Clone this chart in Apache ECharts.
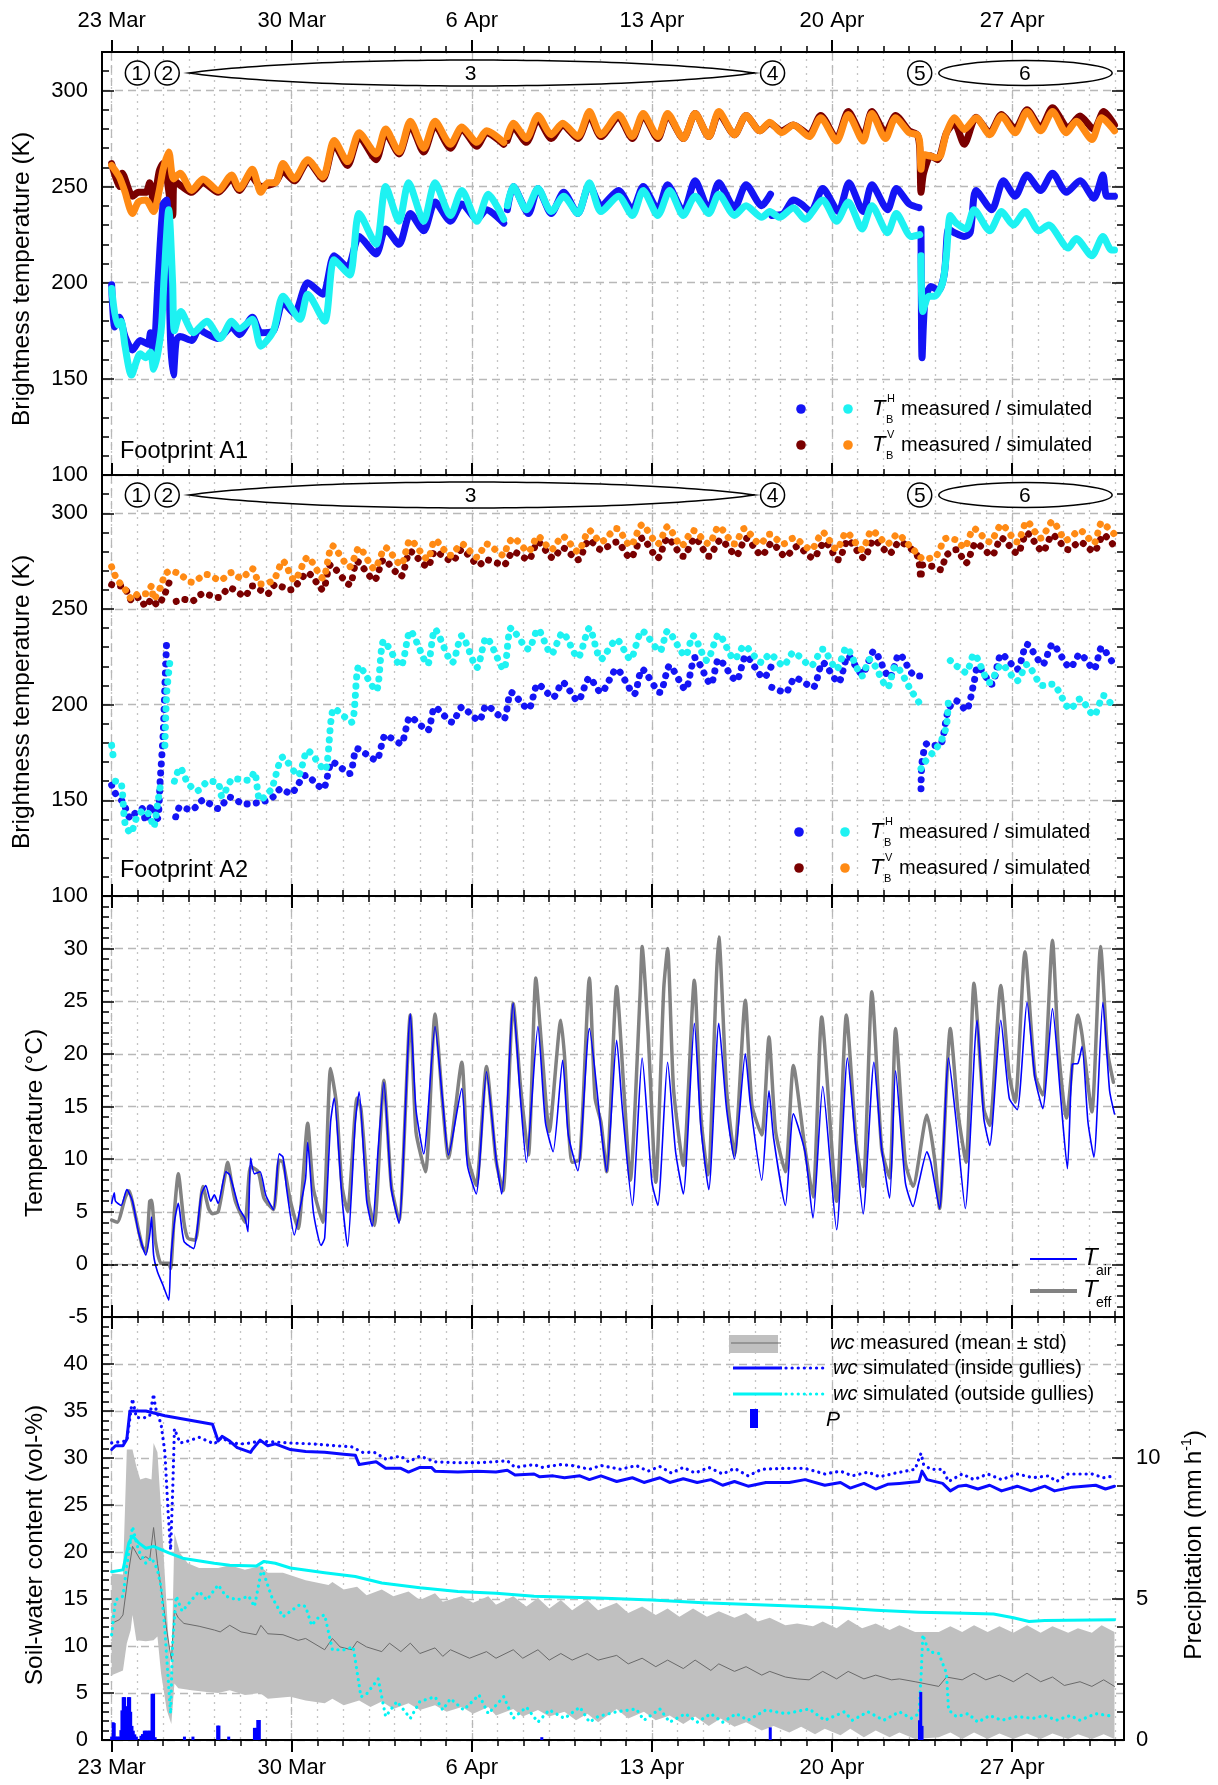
<!DOCTYPE html>
<html><head><meta charset="utf-8">
<script src="https://cdn.jsdelivr.net/npm/echarts@6/dist/echarts.min.js"></script>
<style>html,body{margin:0;padding:0;background:#fff}#c{width:1218px;height:1785px}</style>
</head><body><div id="c"></div>
<script>
// ---------------- axis ticks / labels ----------------
const XMIN = -0.375, XMAX = 39.35;   // days after 23 Mar 00:00
const tickDays = [0,1,2,3,4,5,6,7,8,9,10,11,12,13,14,15,16,17,18,19,20,21,22,23,24,25,26,27,28,29,30,31,32,33,34,35,36,37,38,39];
const weekDays = [0,7,14,21,28,35];
const weekLabels = ['23 Mar','30 Mar','6 Apr','13 Apr','20 Apr','27 Apr'];
const tbMajor = [100,150,200,250,300];
const tbMinor = [100,110,120,130,140,150,160,170,180,190,200,210,220,230,240,250,260,270,280,290,300,310,320];
const tMajor = [-5,0,5,10,15,20,25,30];
const tMinor = [-5,-4,-3,-2,-1,0,1,2,3,4,5,6,7,8,9,10,11,12,13,14,15,16,17,18,19,20,21,22,23,24,25,26,27,28,29,30,31,32,33,34,35];
const wcMajor = [0,5,10,15,20,25,30,35,40];
const wcMinor = [0,1,2,3,4,5,6,7,8,9,10,11,12,13,14,15,16,17,18,19,20,21,22,23,24,25,26,27,28,29,30,31,32,33,34,35,36,37,38,39,40,41,42,43,44,45];
const pMajorTicks = [0,5,10,15];
const pLabels = [0,5,10];
const pMinor = [0,1,2,3,4,5,6,7,8,9,10,11,12,13,14,15];

// ---------------- Footprint A1 brightness temperatures (K) ----------------
const A1_TBH_meas = [[0,199],[0.12,177],[0.3,182],[0.52,172],[0.81,165],[1.11,170],[1.41,168],[1.51,174],[1.63,163],[1.8,200],[2.0,241],[2.14,243],[2.29,170],[2.4,152],[2.51,170],[2.66,172],[3.11,170],[3.4,176],[3.62,174],[4.14,171],[4.66,177],[4.96,173],[5.47,182],[5.8,174],[6.29,175],[6.66,190],[7.1,184],[7.62,200],[8.21,194],[8.65,214],[9.17,208],[9.62,224],[10.28,215],[10.65,228],[11.17,220],[11.61,236],[12.13,227],[12.57,242],[13.17,232],[13.61,241],[14.2,233],[14.57,238],[15.24,231],[15.31,null],[15.38,238],[15.61,250],[16.2,236],[16.57,249],[17.09,236],[17.57,247],[18.12,236],[18.57,251],[19.02,240],[19.7,248],[20.24,238],[20.66,250],[21.23,238],[21.61,251],[22.22,237],[22.68,253],[23.21,238],[23.6,252],[24.21,239],[24.66,251],[25.27,240],[25.61,246],[25.63,null],[25.66,235],[26.11,236],[26.5,243],[26.8,241],[27.18,237],[27.64,249],[28.25,237],[28.66,252],[29.21,237],[29.55,251],[30.16,238],[30.5,249],[31.0,241],[31.38,239],[31.42,null],[31.46,228],[31.47,200],[31.5,161],[31.61,190],[31.84,198],[32.15,196],[32.37,205],[32.53,228],[32.76,226],[33.14,224],[33.37,226],[33.6,248],[34.21,238],[34.66,253],[35.12,245],[35.58,256],[36.11,248],[36.57,257],[37.11,247],[37.64,253],[38.18,244],[38.53,256],[38.68,245],[38.98,245]];
const A1_TBH_sim = [[0,197],[0.22,178],[0.37,180],[0.52,167],[0.77,152],[1.11,163],[1.33,161],[1.51,164],[1.63,155],[1.92,175],[2.04,203],[2.22,238],[2.37,200],[2.44,175],[2.69,185],[3.18,174],[3.7,180],[4.22,171],[4.66,180],[4.96,176],[5.47,181],[5.8,167],[6.29,175],[6.66,193],[7.32,181],[7.62,194],[8.28,180],[8.65,212],[9.25,204],[9.62,236],[10.28,220],[10.65,250],[11.17,232],[11.54,252],[12.13,232],[12.57,252],[13.17,235],[13.61,248],[14.2,232],[14.64,246],[15.24,233],[15.31,null],[15.38,240],[15.61,250],[16.12,238],[16.57,249],[17.09,237],[17.57,245],[18.12,236],[18.57,252],[19.02,237],[19.7,245],[20.24,235],[20.66,248],[21.23,235],[21.69,248],[22.22,235],[22.68,245],[23.21,236],[23.6,246],[24.21,235],[24.66,240],[25.27,234],[25.58,237],[25.96,234],[26.5,239],[26.95,233],[27.64,243],[28.18,232],[28.63,242],[29.17,228],[29.55,240],[30.16,226],[30.5,236],[31.08,224],[31.41,225],[31.43,null],[31.46,214],[31.53,185],[31.76,193],[31.99,193],[32.3,200],[32.45,215],[32.6,235],[32.83,231],[33.21,228],[33.52,238],[34.13,227],[34.59,237],[35.05,230],[35.5,237],[36.04,227],[36.42,230],[37.18,218],[37.49,223],[38.1,214],[38.53,224],[38.86,217],[38.98,217]];
const A1_TBV_meas = [[0,262],[0.3,250],[0.41,257],[0.81,245],[1.04,247],[1.33,247],[1.48,252],[1.63,242],[1.85,258],[2.0,262],[2.14,255],[2.37,235],[2.44,253],[2.74,250],[3.11,247],[3.55,252],[4.14,247],[4.66,254],[4.96,248],[5.4,256],[5.8,250],[6.36,252],[6.66,258],[7.1,253],[7.62,263],[8.21,254],[8.65,272],[9.17,261],[9.62,276],[10.28,264],[10.65,278],[11.17,267],[11.61,282],[12.13,268],[12.57,282],[13.17,270],[13.61,280],[14.2,271],[14.57,278],[15.24,272],[15.31,null],[15.38,274],[15.61,281],[16.12,273],[16.57,285],[17.09,275],[17.53,282],[18.12,275],[18.57,287],[19.02,276],[19.7,286],[20.24,275],[20.66,287],[21.23,275],[21.61,287],[22.22,275],[22.68,288],[23.21,276],[23.6,288],[24.21,277],[24.66,287],[25.2,279],[25.58,283],[26.04,279],[26.5,282],[27.11,277],[27.56,287],[28.18,275],[28.63,289],[29.21,276],[29.55,289],[30.08,278],[30.47,287],[31.0,279],[31.31,277],[31.41,270],[31.46,247],[31.56,257],[31.84,266],[32.1,264],[32.45,278],[32.76,283],[33.14,272],[33.6,286],[34.13,278],[34.59,287.5],[35.12,280],[35.58,290],[36.11,280.6],[36.57,291],[37.18,280.6],[37.64,286.7],[38.18,279.7],[38.56,289],[38.98,282]];
const A1_TBV_sim = [[0,261],[0.3,255],[0.5,248],[0.81,236],[1.04,242],[1.33,243],[1.63,237],[1.85,248],[2.0,259],[2.22,268],[2.4,254],[2.66,257],[3.11,248],[3.55,254],[4.14,248],[4.66,256],[4.96,249],[5.47,259],[5.8,247],[6.07,252],[6.36,252],[6.66,262],[7.1,254],[7.62,264],[8.21,255],[8.65,274],[9.17,263],[9.62,278],[10.28,267],[10.65,280],[11.17,268],[11.61,284],[12.13,270],[12.57,284],[13.17,272],[13.61,281],[14.2,273],[14.57,279],[15.24,273],[15.31,null],[15.38,276],[15.61,283],[16.12,275],[16.57,287],[17.09,277],[17.53,283],[18.12,276],[18.57,289],[19.02,277],[19.7,287.5],[20.24,276],[20.66,288],[21.23,276],[21.61,288],[22.22,275],[22.68,288],[23.21,276],[23.6,289],[24.21,277],[24.66,287],[25.2,279],[25.58,283.5],[26.04,278],[26.5,282],[27.11,276],[27.56,285.8],[28.18,273.7],[28.63,287.5],[29.21,273.7],[29.55,288],[30.08,275],[30.47,285.8],[31.0,278],[31.31,277],[31.41,273],[31.46,259],[31.56,266.7],[31.84,265.8],[32.07,265],[32.22,266],[32.45,278],[32.76,285.8],[33.14,279.7],[33.6,285.8],[34.13,277],[34.59,286.7],[35.12,278],[35.58,289],[36.11,279],[36.57,289],[37.11,278],[37.49,284],[38.1,274.5],[38.48,285.8],[38.98,279]];

// ---------------- Footprint A2 brightness temperatures (K) ----------------
const A2_TBH_meas = [[0,157.9],[0.15,153.5],[0.44,149],[0.74,140.5],[0.96,144],[1.18,145.7],[1.33,139],[1.55,147.5],[1.78,140.5],[1.89,161.3],[2.0,184],[2.07,210],[2.14,234],[2.3,null],[2.49,141.4],[2.66,146.6],[3.11,145],[3.55,150],[4.14,145.7],[4.59,151.6],[5.18,148],[5.77,149],[6.21,151],[6.58,156],[6.95,153.5],[7.54,163],[8.21,156],[8.58,170],[9.25,164],[9.54,177],[10.28,171],[10.65,184],[11.24,179.6],[11.61,193.5],[12.28,186.5],[12.57,198.6],[13.24,190.8],[13.61,198.6],[14.28,191.7],[14.57,199.5],[15.24,192.5],[15.53,206.4],[16.2,197.7],[16.57,210.7],[17.16,203.8],[17.53,211.6],[18.12,202],[18.57,214],[19.02,206.4],[19.63,218.5],[20.31,205.5],[20.62,218.5],[21.31,206.4],[21.69,220.3],[22.3,208],[22.68,224.6],[23.29,210.7],[23.6,223.7],[24.28,212.5],[24.66,225.5],[25.35,214],[25.64,220],[25.65,null],[25.66,209],[26.19,206.4],[26.57,214],[27.26,209],[27.64,222],[28.25,211.6],[28.63,225.5],[29.17,216],[29.63,228],[30.24,214],[30.62,226.4],[31.23,215],[31.41,215],[31.43,null],[31.46,156],[31.5,170],[31.69,179.6],[31.99,178.7],[32.22,179],[32.53,197.7],[32.83,202],[33.21,197],[33.52,211.6],[33.67,220],[34.21,210.7],[34.59,226.4],[35.2,218.5],[35.58,231.5],[36.19,221],[36.57,231.5],[37.26,219.4],[37.64,226.4],[38.18,218.5],[38.48,229.8],[38.98,220.3]];
const A2_TBH_sim = [[0,178.7],[0.07,172],[0.11,null],[0.15,160],[0.37,159],[0.52,138],[0.74,132.8],[0.96,140.5],[1.26,145],[1.48,142],[1.63,136],[1.78,147.5],[1.92,160],[2.0,null],[2.07,178.7],[2.14,206],[2.29,225.5],[2.37,null],[2.44,160],[2.66,167],[2.96,159],[3.33,155],[3.77,160],[4.14,159],[4.29,152],[4.73,161.3],[5.33,160.5],[5.55,164.8],[5.77,150],[6.21,156],[6.66,172.6],[7.25,163],[7.62,176],[8.28,165.7],[8.65,198],[9.32,190.8],[9.62,220.3],[10.28,207.3],[10.58,233.3],[11.24,220.3],[11.61,238.5],[12.28,221],[12.57,239.3],[13.24,222],[13.61,236],[14.2,219.4],[14.57,235],[15.24,218.5],[15.53,240],[16.2,229],[16.57,239.3],[17.09,226.4],[17.53,237.6],[18.12,224.6],[18.57,240],[19.02,223.7],[19.63,234],[20.16,223.7],[20.62,238.5],[21.31,228],[21.61,238.5],[22.3,225.5],[22.6,236],[23.14,223],[23.6,236.7],[24.21,223.7],[24.59,230.7],[25.27,222],[25.58,226.4],[26.11,220.3],[26.5,227.2],[27.18,220.3],[27.64,229],[28.18,218.5],[28.56,229.8],[29.17,215],[29.47,223.7],[30.16,209],[30.47,220.3],[31.08,207.3],[31.38,201.2],[31.42,null],[31.46,166.6],[31.61,170],[31.92,175],[32.22,180.4],[32.45,189],[32.53,204.7],[32.56,null],[32.6,223],[32.83,220.3],[33.21,216.8],[33.52,226.4],[34.13,211.6],[34.59,221],[35.2,212.5],[35.58,221],[36.19,210],[36.57,210.7],[37.26,197.7],[37.64,203],[38.18,194.3],[38.56,204.7],[38.98,197.7]];
const A2_TBV_meas = [[0,262.7],[0.15,262],[0.44,262],[0.81,254],[1.04,256],[1.33,251.4],[1.55,255],[1.78,252],[2.07,258],[2.29,266],[2.4,null],[2.51,254],[2.81,255],[3.11,254],[3.55,258],[4.14,256],[4.59,261],[5.18,256.7],[5.47,262],[6.07,258],[6.36,262.7],[6.95,260],[7.62,268.8],[8.21,260],[8.51,273],[9.25,262.7],[9.54,274.8],[10.21,265],[10.58,275.7],[11.24,267],[11.61,280],[12.28,272],[12.57,280],[13.24,275],[13.61,281],[14.28,273],[14.57,275.7],[15.24,273],[15.61,280],[16.2,275.7],[16.57,285],[17.16,276.6],[17.53,282],[18.12,275.7],[18.57,286],[19.02,281],[19.63,285],[20.16,276.6],[20.62,287],[21.23,276.6],[21.61,287],[22.22,277.5],[22.68,287],[23.21,277.5],[23.67,286],[24.28,278],[24.66,287],[25.27,278],[25.66,284.4],[26.19,277.5],[26.65,282.7],[27.26,276.6],[27.72,285],[28.25,275.7],[28.63,286],[29.24,276.6],[29.63,286],[30.24,279],[30.62,285],[31.31,278],[31.46,266],[31.53,273],[31.99,272],[32.22,270.5],[32.45,278],[32.83,281],[33.21,274],[33.6,284.4],[34.21,278],[34.59,287],[35.2,279],[35.58,289.6],[36.19,280],[36.57,288.7],[37.18,281],[37.64,285],[38.18,280],[38.56,288.7],[38.98,282.7]];
const A2_TBV_sim = [[0,272],[0.22,265],[0.44,262],[0.81,255],[1.04,258],[1.33,258],[1.55,262],[1.63,255],[1.92,262],[2.07,268],[2.29,270],[2.66,268],[3.11,264],[3.7,268],[4.22,265],[4.66,269],[5.03,266],[5.47,271],[5.77,263],[6.29,265],[6.66,275],[7.1,265],[7.62,277],[8.21,266],[8.58,283],[9.25,272],[9.62,282],[10.21,271],[10.65,282],[11.24,273],[11.61,286],[12.28,276],[12.57,286],[13.17,278],[13.61,284],[14.2,277],[14.57,284],[15.24,278],[15.38,283],[15.61,287],[16.2,280],[16.57,288],[17.09,281],[17.53,288],[18.12,280],[18.57,291],[19.02,285],[19.63,292],[20.16,283],[20.62,294],[21.23,284],[21.61,293],[22.15,283],[22.6,291],[23.21,284],[23.6,293],[24.21,284],[24.59,292],[25.2,284],[25.58,289],[26.11,284],[26.5,287],[27.18,281],[27.64,290],[28.18,281],[28.56,290],[29.17,281],[29.55,291],[30.16,284],[30.54,289],[31.08,282],[31.38,278],[31.53,276],[31.84,276.6],[32.07,278],[32.45,287],[32.83,286],[33.14,282],[33.52,292],[34.13,285],[34.59,294],[35.2,285],[35.58,295.7],[36.11,287],[36.57,295.7],[37.11,286],[37.64,291],[38.18,284.4],[38.48,295],[38.98,289]];

// ---------------- temperatures (deg C) ----------------
const T_air = [[0,5.8],[0.1,6.8],[0.15,6.0],[0.37,5.6],[0.59,7.1],[0.81,6.0],[1.04,3.1],[1.33,0.9],[1.48,2.8],[1.55,4.5],[1.63,0.9],[1.78,-0.7],[2.0,-2.0],[2.22,-3.4],[2.29,0.1],[2.44,4.0],[2.59,5.8],[2.81,2.2],[3.18,1.5],[3.48,6.6],[3.66,7.5],[3.85,6.0],[3.99,6.6],[4.14,5.8],[4.44,8.8],[4.59,8.5],[4.96,5.3],[5.18,4.4],[5.3,3.1],[5.4,10.1],[5.55,8.6],[5.77,8.8],[5.99,6.6],[6.29,5.2],[6.51,10.5],[6.66,10.2],[6.8,7.2],[7.1,2.8],[7.32,5.3],[7.54,8.2],[7.62,11.6],[7.84,5.0],[8.14,1.8],[8.28,2.5],[8.51,13.5],[8.65,15.8],[8.95,6.4],[9.17,1.7],[9.47,13.5],[9.62,16.4],[9.91,6.1],[10.13,3.6],[10.36,11.0],[10.58,17.3],[10.87,7.2],[11.17,3.9],[11.61,23.8],[11.83,14.7],[12.13,10.5],[12.57,22.6],[12.87,15.4],[13.09,10.4],[13.61,16.7],[13.83,9.4],[14.17,6.7],[14.57,18.3],[14.94,10.1],[15.16,6.7],[15.61,24.8],[15.9,15.4],[16.12,9.7],[16.57,22.6],[16.86,13.5],[17.16,10.7],[17.53,19.4],[17.75,12.3],[18.12,8.9],[18.57,22.4],[19.02,12.9],[19.24,8.8],[19.63,21.3],[19.85,14.8],[20.24,5.6],[20.62,19.6],[21.0,7.8],[21.23,5.6],[21.61,19.2],[21.92,10.7],[22.22,6.7],[22.65,22.9],[22.91,12.9],[23.21,7.1],[23.6,22.9],[23.9,14.8],[24.21,10.0],[24.63,20.0],[24.82,15.4],[25.27,8.0],[25.55,16.5],[25.73,12.0],[26.19,5.6],[26.5,14.3],[26.95,10.7],[27.26,4.4],[27.64,16.9],[28.18,3.3],[28.6,19.6],[28.94,10.9],[29.21,4.8],[29.63,19.2],[29.93,11.0],[30.24,6.3],[30.47,18.4],[30.85,7.8],[31.15,5.5],[31.38,7.8],[31.69,10.7],[31.84,9.7],[32.18,5.3],[32.53,19.6],[32.83,13.5],[33.18,5.3],[33.64,23.2],[33.9,13.9],[34.13,11.3],[34.56,23.2],[34.89,15.8],[35.2,14.7],[35.58,24.9],[35.89,17.7],[36.19,14.8],[36.57,24.3],[36.88,16.1],[37.15,9.1],[37.34,19.0],[37.56,19.1],[37.72,20.7],[37.95,13.5],[38.18,10.2],[38.53,24.9],[38.79,16.5],[38.98,14.3]];
const T_eff = [[0,4.2],[0.22,4.0],[0.52,6.3],[0.67,7.0],[0.89,5.0],[1.18,1.8],[1.33,1.2],[1.48,6.0],[1.55,6.1],[1.7,2.2],[1.92,0.1],[2.22,0.1],[2.29,-0.4],[2.44,5.0],[2.59,8.6],[2.81,4.0],[2.96,2.5],[3.25,2.3],[3.55,7.4],[3.77,5.3],[3.92,4.8],[4.14,5.0],[4.36,7.8],[4.51,9.7],[4.66,7.8],[4.81,6.0],[5.18,4.0],[5.4,9.3],[5.7,8.8],[5.92,6.3],[6.29,5.2],[6.51,9.9],[6.66,9.7],[6.95,6.0],[7.25,3.4],[7.62,13.4],[7.84,7.2],[8.21,4.0],[8.51,18.6],[8.73,15.4],[8.95,7.5],[9.17,5.0],[9.54,15.8],[9.69,14.8],[9.99,6.0],[10.21,3.7],[10.58,17.5],[10.87,7.5],[11.17,4.2],[11.61,23.7],[11.83,12.6],[12.2,8.8],[12.57,23.8],[12.87,15.1],[13.09,10.1],[13.61,19.2],[13.83,10.4],[14.17,7.5],[14.57,18.8],[14.94,9.9],[15.21,7.0],[15.61,24.8],[15.9,16.7],[16.2,10.4],[16.49,27.2],[16.72,20.5],[17.01,12.6],[17.46,23.2],[17.6,19.9],[17.9,9.7],[18.2,10.0],[18.57,27.2],[18.79,15.8],[19.02,13.5],[19.24,8.8],[19.63,26.4],[19.93,15.8],[20.16,8.0],[20.54,25.6],[20.62,30.2],[20.85,22.1],[21.15,7.8],[21.46,26.2],[21.61,30.0],[21.84,16.7],[22.22,9.4],[22.65,27.0],[22.91,13.9],[23.17,8.5],[23.52,28.0],[23.6,31.1],[23.9,16.7],[24.21,10.4],[24.63,25.1],[24.89,15.1],[25.27,12.3],[25.55,21.6],[25.81,12.6],[26.19,8.8],[26.5,18.9],[26.95,11.0],[27.26,6.4],[27.6,23.5],[28.18,6.0],[28.56,23.7],[28.94,11.6],[29.21,7.4],[29.55,25.9],[29.93,11.0],[30.24,8.2],[30.47,22.4],[30.85,9.7],[31.15,7.4],[31.69,14.2],[31.99,10.0],[32.18,5.3],[32.6,22.4],[32.91,14.2],[33.21,9.7],[33.52,26.7],[33.9,14.8],[34.13,13.2],[34.56,26.5],[34.89,18.0],[35.12,15.4],[35.5,29.7],[35.89,18.0],[36.19,16.1],[36.57,30.8],[36.8,20.5],[37.11,13.9],[37.56,23.7],[37.72,21.8],[38.1,14.5],[38.44,30.2],[38.71,20.2],[38.94,17.3]];

// ---------------- soil-water content (vol-%) and precipitation (mm/h) ----------------
const wc_in_sim = [[0,30.9],[0.15,31.3],[0.44,31.3],[0.59,32],[0.71,35],[1.33,35],[2.07,34.5],[3.92,33.6],[4.14,31.8],[4.29,32.3],[4.59,31.8],[4.88,31.1],[5.4,30.6],[5.47,30.9],[5.77,31.9],[6.07,31.3],[6.36,31.5],[6.95,30.9],[7.54,30.7],[8.28,30.6],[9.02,30.4],[9.47,30.3],[9.62,29.3],[10.28,29.6],[10.65,28.9],[11.24,28.9],[11.54,28.5],[11.98,29],[12.43,29],[12.57,28.6],[13.46,28.5],[14.2,28.6],[14.94,28.5],[15.38,28.7],[15.68,28.2],[16.42,28.3],[16.64,28],[17.16,28.1],[17.6,27.9],[18.2,28.1],[18.57,27.7],[19.02,28.1],[19.63,27.5],[20.24,27.9],[20.69,27.4],[21.31,27.9],[21.69,27.4],[22.22,27.8],[22.76,27.4],[23.29,27.7],[23.75,27.1],[24.21,27.5],[24.74,27],[25.43,27.4],[26.34,27.4],[26.95,27.7],[27.72,27.1],[28.33,27.4],[28.71,26.8],[29.24,27.3],[29.7,26.7],[30.16,27.2],[30.62,27.3],[31.38,27.5],[31.5,28.6],[31.69,27.7],[32.3,27.3],[32.6,26.5],[32.91,27],[33.21,27.1],[33.67,26.7],[34.13,27.1],[34.59,26.5],[35.2,27],[35.73,26.5],[36.27,27],[36.65,26.5],[37.34,26.9],[38.25,27.1],[38.63,26.7],[38.98,27]];
const wc_in_sim2 = [[0,31.6],[0.59,31.8],[0.81,36.3],[0.96,34.3],[1.33,34.3],[1.48,34.5],[1.63,36.8],[1.7,35.4],[1.92,33.6],[2.07,30.6],[2.19,24.5],[2.29,20.2],[2.37,26.3],[2.44,33.1],[2.66,31.6],[2.96,31.8],[3.4,32.2],[3.99,31.5],[4.29,32.2],[4.59,31.6],[5.18,31.5],[5.77,31.8],[6.95,31.6],[7.84,31.5],[8.73,31.3],[9.32,31.2],[9.76,30.6],[10.21,30.6],[10.65,29.9],[11.24,30.2],[11.54,29.6],[11.98,30.2],[12.57,29.6],[13.46,29.5],[14.35,29.5],[15.38,29.7],[15.68,29],[16.42,29.3],[16.72,29],[17.46,29.3],[17.9,29.2],[18.57,28.8],[19.02,29.2],[19.78,28.8],[20.39,29.2],[20.85,28.6],[21.31,29.1],[21.76,28.4],[22.22,29],[22.68,28.4],[23.21,29],[23.75,28.3],[24.21,28.9],[24.74,28.1],[25.27,28.8],[26.19,28.9],[26.95,28.9],[27.72,28.3],[28.33,28.6],[28.79,28.1],[29.4,28.5],[29.85,28],[30.47,28.4],[31.23,28.8],[31.46,30.5],[31.56,29.3],[31.84,28.8],[32.3,28.8],[32.53,27.5],[33.06,28.3],[33.52,27.7],[34.05,28.3],[34.59,27.7],[35.2,28.3],[35.81,27.9],[36.42,28.1],[36.73,27.5],[37.18,28.3],[38.1,28.3],[38.56,27.9],[38.98,28.1]];
const wc_out_sim = [[0,17.9],[0.44,18.1],[0.67,21],[0.81,21.7],[1.04,21],[1.33,20.4],[1.63,20.6],[1.7,20.8],[2.22,19.9],[2.81,19.3],[3.99,18.8],[4.59,18.6],[5.62,18.5],[5.92,19],[6.36,18.8],[6.95,18.3],[8.28,17.8],[9.47,17.4],[10.5,16.7],[11.98,16.2],[13.46,15.8],[14.94,15.6],[16.42,15.3],[18.91,15.1],[21,14.9],[22.98,14.6],[25.12,14.4],[28.02,14.1],[29.7,13.8],[31.38,13.6],[32.76,13.5],[34.28,13.4],[35.05,13],[35.66,12.6],[36.27,12.7],[38.98,12.8]];
const wc_out_sim2 = [[0,11.2],[0.15,14.9],[0.44,15.3],[0.59,18.5],[0.81,22.7],[1.04,20.2],[1.33,18.8],[1.55,19.4],[1.78,18.1],[1.92,16.3],[2.07,11.7],[2.19,6.7],[2.29,2.8],[2.37,10.3],[2.51,15.3],[2.74,13.7],[3.11,14.9],[3.4,15.8],[3.7,14.9],[4.14,16.5],[4.44,15.3],[4.88,14.9],[5.33,15.3],[5.55,14.2],[5.84,18.3],[6.21,15.3],[6.66,13.1],[6.95,13.7],[7.32,14.4],[7.54,14.2],[7.77,12.2],[8.06,13.1],[8.28,13.3],[8.58,9.6],[9.02,9.6],[9.39,9.9],[9.69,4.6],[9.91,4.9],[10.36,6.5],[10.65,2.5],[11.09,4.1],[11.61,2.3],[11.98,4.1],[12.57,4.6],[12.87,3.2],[13.17,4.4],[13.68,3.2],[14.28,4.8],[14.64,2.8],[15.24,4.6],[15.61,2.3],[16.12,3.5],[16.57,1.9],[17.01,3.2],[17.6,2.3],[18.2,3.5],[18.57,1.9],[18.91,2.5],[19.63,3.0],[20.39,3.3],[20.69,2.1],[21.31,3.3],[21.69,1.9],[22.3,2.8],[22.76,1.9],[23.29,2.8],[23.75,1.9],[24.28,2.8],[24.74,2.1],[25.43,3.2],[26.19,2.8],[27.11,3.3],[27.72,2.1],[28.48,3.0],[28.79,2.1],[29.4,3.0],[30.01,2.1],[30.62,3.0],[31.08,2.3],[31.38,2.8],[31.46,6.7],[31.53,11.2],[31.76,9.4],[32.15,9.2],[32.45,7.1],[32.53,3.2],[32.83,2.5],[33.29,2.8],[33.67,1.9],[34.13,2.6],[34.59,2.1],[35.2,2.5],[35.81,2.3],[36.27,2.6],[36.73,2.1],[37.26,2.6],[37.64,2.1],[38.25,2.8],[38.98,2.5]];
const wc_meas_mean = [[0,12.4],[0.3,12.8],[0.44,13.3],[0.67,18.1],[0.81,20.6],[1.11,19.2],[1.33,19.5],[1.48,19.2],[1.63,22.6],[1.78,18.8],[2.0,14.6],[2.14,11.7],[2.32,8.5],[2.44,13.8],[2.59,13],[2.81,12.4],[3.4,12.1],[3.99,11.7],[4.22,11.5],[4.59,12.2],[5.03,11.5],[5.62,11.2],[5.8,12.2],[6.07,11.3],[6.66,11.2],[7.25,10.6],[7.54,10.8],[8.28,9.6],[8.58,10.8],[8.88,9.9],[9.32,9.6],[9.54,10.5],[9.91,9.9],[10.5,9.4],[10.8,10.3],[11.24,9.4],[11.61,10.3],[11.98,9.2],[12.57,9.8],[12.87,8.9],[13.17,9.6],[13.91,8.7],[14.57,9.4],[14.94,8.7],[15.61,9.6],[15.98,8.7],[16.57,9.6],[17.01,8.5],[17.46,9.2],[17.9,8.5],[18.49,9.2],[18.91,8.5],[19.63,9.0],[20.08,8.1],[20.62,8.7],[21.15,7.8],[21.61,8.5],[22.22,7.6],[22.68,8.5],[23.29,7.4],[23.6,8.1],[24.21,7.3],[24.66,7.8],[25.27,6.9],[25.58,7.3],[26.19,6.7],[26.65,6.5],[27.11,6.4],[27.64,7.3],[28.18,6.5],[28.63,7.3],[29.24,6.5],[29.7,6.9],[30.31,6.4],[30.62,6.5],[31.23,6.2],[32.15,5.7],[32.45,6.7],[33.06,6.4],[33.52,7.1],[33.98,6.4],[34.51,6.9],[35.05,6.2],[35.58,7.1],[36.11,6.2],[36.57,6.7],[37.03,5.8],[37.64,6.2],[38.1,5.7],[38.56,6.4],[38.98,5.7]];
const wc_meas_upper = [[0,17.7],[0.44,17.6],[0.59,30.9],[0.81,30.9],[0.96,29.1],[1.11,27.7],[1.33,27.9],[1.55,27.7],[1.63,31.6],[1.78,30.6],[1.92,24.5],[2.07,17.4],[2.22,10.3],[2.32,6.7],[2.44,22],[2.66,19.9],[2.96,18.8],[3.4,18.3],[4.14,18.3],[4.59,18.6],[5.18,18.1],[5.77,18.5],[6.07,17.8],[6.66,17.8],[7.54,17],[8.43,16.5],[8.58,16.8],[9.02,16],[9.54,16.3],[9.91,15.4],[10.5,16],[10.95,15.3],[11.54,15.8],[11.98,14.9],[12.57,15.6],[12.87,14.7],[13.61,15.3],[14.05,14.6],[14.64,15.3],[14.94,14.4],[15.61,15.3],[16.12,14.2],[16.57,15.1],[17.01,14],[17.46,14.9],[17.9,13.8],[18.49,14.9],[18.91,13.8],[19.63,14.6],[20.08,13.5],[20.62,14.2],[21.15,13.3],[21.61,14],[22.07,13.1],[22.6,14],[23.14,13.1],[23.6,13.7],[24.21,13],[24.66,13.5],[25.12,12.6],[25.58,13],[26.19,12.2],[26.65,12.4],[27.26,12.1],[27.64,12.6],[28.18,11.9],[28.63,12.8],[29.17,11.9],[29.7,12.4],[30.24,11.7],[30.62,12.2],[31.23,11.5],[32.15,11.5],[32.6,12.1],[33.06,11.5],[33.52,12.2],[34.05,11.5],[34.51,12.1],[35.05,11.4],[35.58,12.2],[36.11,11.4],[36.57,12.1],[37.18,11.4],[37.56,11.9],[38.1,11.4],[38.48,12.2],[38.98,11.5]];
const wc_meas_lower = [[0,6.9],[0.44,7.4],[0.59,10.3],[0.74,11.7],[0.81,13.3],[0.96,10.6],[1.33,10.5],[1.63,10.6],[1.78,11],[1.92,7.1],[2.14,3.2],[2.32,1.7],[2.44,6],[2.59,5.5],[3.11,5.3],[3.7,5.1],[4.14,5],[4.59,5.3],[5.18,4.8],[5.77,5],[6.07,4.4],[6.95,4.6],[7.54,4.2],[8.28,3.9],[8.58,4.4],[9.02,3.7],[9.62,4.2],[10.06,3.5],[10.5,4.1],[10.95,3.3],[11.54,3.9],[11.98,3.2],[12.57,3.7],[13.02,3],[13.61,3.5],[14.05,2.8],[14.64,3.5],[14.94,2.6],[15.61,3.3],[15.98,2.5],[16.57,3.2],[17.01,2.5],[17.6,3],[18.05,2.1],[18.49,2.8],[18.91,1.9],[19.63,3.3],[20.08,2.3],[20.69,3],[21.15,2.1],[21.69,2.6],[22.22,1.7],[22.68,2.5],[23.21,1.5],[23.67,2.3],[24.21,1.4],[24.66,1.9],[25.27,1],[25.73,1.5],[26.34,0.8],[26.8,1.4],[27.34,0.6],[27.72,1.2],[28.33,0.5],[28.71,1.2],[29.24,0.3],[29.7,1],[30.24,0.3],[30.62,0.8],[31.23,0.1],[32.15,0.3],[32.6,0.8],[33.06,0.1],[33.52,0.8],[34.05,0.1],[34.51,0.7],[35.05,0.1],[35.58,0.7],[36.11,0.1],[36.57,0.7],[37.18,0.1],[37.56,0.6],[38.1,0.1],[38.56,0.6],[38.98,0.1]];
const precip = [[0.0,0.12],[0.06,0.63],[0.1,0.6],[0.15,0.12],[0.22,0.12],[0.28,0.12],[0.36,0.35],[0.4,1.05],[0.45,1.52],[0.5,1.52],[0.55,1.2],[0.6,1.0],[0.65,1.52],[0.7,1.52],[0.74,1.0],[0.79,0.5],[0.84,0.33],[0.9,0.2],[0.96,0.12],[1.14,0.15],[1.2,0.21],[1.27,0.33],[1.33,0.33],[1.4,0.33],[1.46,0.33],[1.52,0.33],[1.57,1.64],[1.63,1.64],[1.69,0.1],[2.83,0.12],[3.16,0.12],[4.12,0.51],[4.17,0.51],[4.55,0.12],[5.55,0.43],[5.62,0.43],[5.68,0.71],[5.74,0.71],[16.72,0.1],[25.6,0.45],[31.4,0.7],[31.45,1.7],[31.5,0.5]];

// phase annotations (days after 23 Mar)
const phases = [
  {kind:'circle', text:'1', day:1.0},
  {kind:'circle', text:'2', day:2.16},
  {kind:'lens', text:'3', from:3.0, to:25.0, textDay:13.95},
  {kind:'circle', text:'4', day:25.69},
  {kind:'circle', text:'5', day:31.41},
  {kind:'ellipse', text:'6', from:32.15, to:38.89, textDay:35.5}
];

// ---------------- styling / layout ----------------
const FONT = '"Liberation Sans", Arial, Helvetica, sans-serif';
const C_BLUE = '#1414f5', C_CYAN = '#1ef2f2', C_DRED = '#7a0000', C_ORNG = '#ff8a14';
const DOT_SPLIT = {color:'#c4c4c4', type:[2,5], width:1.3};
const DASH_SPLIT = {color:'#b8b8b8', type:[8,5], width:1.3};
const gridBoxes = [
  {left:102, right:94, top:52, height:423},
  {left:102, right:94, top:475, height:421},
  {left:102, right:94, top:896, height:421},
  {left:102, right:94, top:1317, height:423}
];
const yCfg = [
  {min:100, max:320, major:tbMajor, minor:tbMinor},
  {min:100, max:320, major:tbMajor, minor:tbMinor},
  {min:-5, max:35, major:tMajor, minor:tMinor},
  {min:0, max:45, major:wcMajor, minor:wcMinor}
];

function mkX(g, position, ticks, len, inside, showTicks, split, showLabels) {
  return {
    type:'value', gridIndex:g, position:position, min:XMIN, max:XMAX,
    axisLine:{show:true, onZero:false, lineStyle:{color:'#000', width:2}},
    axisTick:{show:showTicks, inside:inside, length:len, customValues:ticks, lineStyle:{color:'#000', width: len > 8 ? 2 : 1.5}},
    axisLabel:{show:showLabels, customValues:weekDays, margin: position === 'top' ? 20 : 17, fontSize:22, color:'#000', fontFamily:FONT,
      formatter: function (v) { const i = weekDays.indexOf(Math.round(v)); return i >= 0 ? weekLabels[i] : ''; }},
    splitLine: split ? {show:true, lineStyle:split} : {show:false}
  };
}
function mkY(g, position, min, max, ticks, len, labels, split, margin) {
  return {
    type:'value', gridIndex:g, position:position, min:min, max:max,
    axisLine:{show:true, onZero:false, lineStyle:{color:'#000', width:2}},
    axisTick:{show:true, inside:true, length:len, customValues:ticks, lineStyle:{color:'#000', width:1.5}},
    axisLabel: labels ? {show:true, customValues:labels, margin:margin || 14, fontSize:22, color:'#000', fontFamily:FONT} : {show:false},
    splitLine: split ? {show:true, lineStyle:DASH_SPLIT} : {show:false}
  };
}

const xAxes = [], yAxes = [];
for (let g = 0; g < 4; g++) {
  const top = g === 0, bottom = g === 3;
  xAxes.push(mkX(g, 'bottom', tickDays, 6, !bottom, true, DOT_SPLIT, false));
  xAxes.push(mkX(g, 'top', tickDays, 6, !top, g !== 1, null, false));
  xAxes.push(mkX(g, 'bottom', weekDays, 12, !bottom, true, DASH_SPLIT, bottom));
  xAxes.push(mkX(g, 'top', weekDays, 12, !top, g !== 1, null, top));
  const c = yCfg[g];
  yAxes.push(mkY(g, 'left', c.min, c.max, c.major, 12, c.major, true));
  yAxes.push(mkY(g, 'left', c.min, c.max, c.minor, 7, null, false));
  if (g < 3) {
    yAxes.push(mkY(g, 'right', c.min, c.max, c.major, 12, null, false));
    yAxes.push(mkY(g, 'right', c.min, c.max, c.minor, 7, null, false));
  } else {
    yAxes.push(mkY(g, 'right', 0, 15, pMajorTicks, 12, pLabels, false, 12));
    yAxes.push(mkY(g, 'right', 0, 15, pMinor, 7, null, false));
  }
}

function solidLine(g, data, color, width, smooth) {
  return {type:'line', xAxisIndex:4*g, yAxisIndex:4*g, data:data, symbol:'none', showSymbol:false,
    connectNulls:false, silent:true, z:2, smooth:smooth || false,
    lineStyle:{color:color, width:width, cap:'round', join:'round'}};
}
function dotLine(g, data, color, width, gap, smooth) {
  return {type:'line', xAxisIndex:4*g, yAxisIndex:4*g, data:data, symbol:'none', showSymbol:false,
    connectNulls:false, silent:true, z:2, smooth:smooth || false,
    lineStyle:{color:color, width:width, type:[0.1, gap], cap:'round', join:'round'}};
}

const series = [
  solidLine(0, A1_TBV_meas, C_DRED, 7, 0.25),
  solidLine(0, A1_TBV_sim, C_ORNG, 7, 0.25),
  solidLine(0, A1_TBH_meas, C_BLUE, 7, 0.25),
  solidLine(0, A1_TBH_sim, C_CYAN, 7, 0.25),
  dotLine(1, A2_TBV_meas, C_DRED, 7, 9, 0.25),
  dotLine(1, A2_TBV_sim, C_ORNG, 7, 9, 0.25),
  dotLine(1, A2_TBH_meas, C_BLUE, 7, 9, 0.25),
  dotLine(1, A2_TBH_sim, C_CYAN, 7, 9, 0.25),
  solidLine(2, T_eff, '#828282', 3.5, 0.2),
  Object.assign(solidLine(2, T_air, '#0000ff', 1.6, 0.2), {
    markLine:{silent:true, symbol:'none', label:{show:false}, lineStyle:{color:'#000', type:[6,4], width:1.5},
      data:[[{coord:[XMIN, 0]}, {coord:[35.25, 0]}]]}
  }),
  {type:'custom', xAxisIndex:12, yAxisIndex:12, data:[[0,0]], silent:true, z:1,
    renderItem: function (params, api) {
      const pts = wc_meas_upper.map(p => api.coord(p)).concat(wc_meas_lower.slice().reverse().map(p => api.coord(p)));
      return {type:'polygon', shape:{points:pts}, style:{fill:'#c0c0c0', stroke:null}};
    }},
  solidLine(3, wc_meas_mean, '#6a6a6a', 1),
  solidLine(3, wc_in_sim, '#0a0aff', 3),
  dotLine(3, wc_in_sim2, '#0a0aff', 3.2, 6),
  solidLine(3, wc_out_sim, '#00f4f4', 3),
  dotLine(3, wc_out_sim2, '#00f4f4', 3.2, 6),
  {type:'bar', xAxisIndex:12, yAxisIndex:15, data:precip, barWidth:3, silent:true, z:3,
    itemStyle:{color:'#0000ff'}}
];

const chart = echarts.init(document.getElementById('c'), null, {renderer:'canvas', width:1218, height:1785});
chart.setOption({
  animation:false,
  backgroundColor:'#fff',
  grid: gridBoxes.map(b => Object.assign({containLabel:false, show:false}, b)),
  xAxis: xAxes,
  yAxis: yAxes,
  series: series
});

// ---------------- annotations / legends ----------------
function xp(d) { return chart.convertToPixel({xAxisIndex:0, yAxisIndex:0}, [d, 200])[0]; }
const G = [];
function txt(x, y, text, size, style, el) {
  G.push(Object.assign({type:'text', x:x, y:y, silent:true, z:100,
    style:Object.assign({text:text, fontSize:size, fontFamily:FONT, fill:'#000', align:'left', verticalAlign:'middle'}, style || {})},
    el || {}));
}
function lensPoints(x0, x1, cy, h, a) {
  // cubic bezier outline of a lens-shaped (pointed) loop
  const pts = [];
  const N = 60;
  function bez(p0, p1, p2, p3, t) {
    const u = 1 - t;
    return u*u*u*p0 + 3*u*u*t*p1 + 3*u*t*t*p2 + t*t*t*p3;
  }
  for (let i = 0; i <= N; i++) {
    const t = i / N;
    pts.push([bez(x0, x0 + a, x1 - a, x1, t), bez(cy, cy - h, cy - h, cy, t)]);
  }
  for (let i = 1; i < N; i++) {
    const t = i / N;
    pts.push([bez(x1, x1 - a, x0 + a, x0, t), bez(cy, cy + h, cy + h, cy, t)]);
  }
  return pts;
}
const rowY = [73, 495];
rowY.forEach(function (cy) {
  phases.forEach(function (p) {
    if (p.kind === 'circle') {
      const cx = xp(p.day);
      G.push({type:'circle', silent:true, z:100, shape:{cx:cx, cy:cy, r:12}, style:{fill:'#fff', stroke:'#000', lineWidth:1.5}});
      txt(cx, cy + 1, p.text, 21, {align:'center'});
    } else if (p.kind === 'lens') {
      const x0 = xp(p.from), x1 = xp(p.to), w = x1 - x0;
      G.push({type:'polygon', silent:true, z:100, shape:{points:lensPoints(x0, x1, cy, 17.3, 0.22 * w)}, style:{fill:'#fff', stroke:'#000', lineWidth:1.5}});
      txt(xp(p.textDay), cy + 1, p.text, 21, {align:'center'});
    } else {
      const x0 = xp(p.from), x1 = xp(p.to);
      G.push({type:'ellipse', silent:true, z:100, shape:{cx:(x0 + x1) / 2, cy:cy, rx:(x1 - x0) / 2, ry:12.5}, style:{fill:'#fff', stroke:'#000', lineWidth:1.5}});
      txt(xp(p.textDay), cy + 1, p.text, 21, {align:'center'});
    }
  });
});

// footprint labels
txt(120, 452, 'Footprint A1', 23.5);
txt(120, 871, 'Footprint A2', 23.5);

// TB legends
function tbLegend(y1, y2, dx1, dx2, tx) {
  [[y1, C_BLUE, C_CYAN, 'H'], [y2, C_DRED, C_ORNG, 'V']].forEach(function (r) {
    const y = r[0];
    G.push({type:'circle', silent:true, z:100, shape:{cx:dx1, cy:y, r:4.8}, style:{fill:r[1]}});
    G.push({type:'circle', silent:true, z:100, shape:{cx:dx2, cy:y, r:4.8}, style:{fill:r[2]}});
    txt(tx, y, 'T', 22, {fontStyle:'italic'});
    txt(tx + 15, y - 10, r[3], 11);
    txt(tx + 14, y + 11, 'B', 11);
    txt(tx + 29, y, 'measured / simulated', 20);
  });
}
tbLegend(409, 445, 801, 848, 872);
tbLegend(832, 868, 799, 845, 870);

// temperature legend
G.push({type:'line', silent:true, z:100, shape:{x1:1030, y1:1259, x2:1077, y2:1259}, style:{stroke:'#0000ff', lineWidth:2}});
G.push({type:'line', silent:true, z:100, shape:{x1:1030, y1:1291, x2:1077, y2:1291}, style:{stroke:'#828282', lineWidth:4}});
txt(1083, 1258, 'T', 24, {fontStyle:'italic'});
txt(1096, 1271, 'air', 14);
txt(1083, 1290, 'T', 24, {fontStyle:'italic'});
txt(1096, 1303, 'eff', 14);

// soil-water legend
G.push({type:'rect', silent:true, z:100, shape:{x:729, y:1335, width:49, height:18}, style:{fill:'#c0c0c0'}});
G.push({type:'line', silent:true, z:101, shape:{x1:731, y1:1343, x2:781, y2:1343}, style:{stroke:'#6a6a6a', lineWidth:1}});
G.push({type:'line', silent:true, z:100, shape:{x1:733, y1:1368, x2:782, y2:1368}, style:{stroke:'#0a0aff', lineWidth:3}});
G.push({type:'line', silent:true, z:100, shape:{x1:786, y1:1368, x2:826, y2:1368}, style:{stroke:'#0a0aff', lineWidth:3.2, lineDash:[0.1, 6], lineCap:'round'}});
G.push({type:'line', silent:true, z:100, shape:{x1:733, y1:1394, x2:782, y2:1394}, style:{stroke:'#00f4f4', lineWidth:3}});
G.push({type:'line', silent:true, z:100, shape:{x1:786, y1:1394, x2:826, y2:1394}, style:{stroke:'#00f4f4', lineWidth:3.2, lineDash:[0.1, 6], lineCap:'round'}});
G.push({type:'rect', silent:true, z:100, shape:{x:750, y:1409, width:8, height:19}, style:{fill:'#0000ff'}});
const rich = {i:{fontStyle:'italic', fontSize:20, fontFamily:FONT, fill:'#000'}, n:{fontSize:20, fontFamily:FONT, fill:'#000'}};
txt(830, 1343, '{i|wc}{n| measured (mean \u00b1 std)}', 20, {rich:rich});
txt(833, 1368, '{i|wc}{n| simulated (inside gullies)}', 20, {rich:rich});
txt(833, 1394, '{i|wc}{n| simulated (outside gullies)}', 20, {rich:rich});
txt(826, 1420, 'P', 21, {fontStyle:'italic'});

// axis titles
function vTitle(x, y, text, extra) {
  G.push({type:'text', x:x, y:y, rotation:Math.PI / 2, silent:true, z:100,
    style:Object.assign({text:text, fontSize:24.5, fontFamily:FONT, fill:'#000', align:'center', verticalAlign:'middle'}, extra || {})});
}
vTitle(22, 279, 'Brightness temperature (K)');
vTitle(22, 702, 'Brightness temperature (K)');
vTitle(35, 1123, 'Temperature (\u00b0C)');
vTitle(35, 1545, 'Soil-water content (vol-%)');
vTitle(1194, 1545, '{a|Precipitation (mm\u2009h}{s|-1}{a|)}', {rich:{
  a:{fontSize:24.5, fontFamily:FONT, fill:'#000', lineHeight:28},
  s:{fontSize:14, fontFamily:FONT, fill:'#000', verticalAlign:'top', lineHeight:28}
}});

chart.setOption({graphic:{elements:G}});
</script></body></html>
